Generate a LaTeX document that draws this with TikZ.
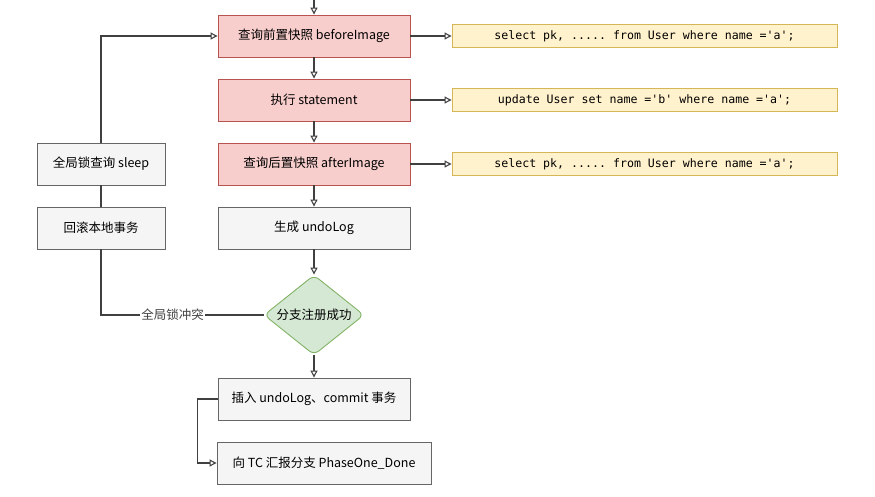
\documentclass[tikz,border=0pt]{standalone}
\usepackage{fontspec}
\setmainfont{Noto Sans CJK SC}
\setmonofont{DejaVu Sans Mono}
\usetikzlibrary{arrows.meta,shapes.geometric}
\definecolor{pinkfill}{HTML}{F8CECC}
\definecolor{pinkline}{HTML}{B85450}
\definecolor{grayfill}{HTML}{F5F5F5}
\definecolor{grayline}{HTML}{666666}
\definecolor{greenfill}{HTML}{D5E8D4}
\definecolor{greenline}{HTML}{82B366}
\definecolor{sqlfill}{HTML}{FFF2CC}
\definecolor{sqlline}{HTML}{D6B656}
\definecolor{wire}{HTML}{404040}
\begin{document}
\begin{tikzpicture}[
      x=1pt, y=-1pt,
      stepbox/.style={
        rectangle, draw=grayline, fill=grayfill, line width=0.9pt,
        minimum width=192pt, minimum height=42pt, inner sep=0pt,
        font=\fontsize{12.5}{14}\selectfont
      },
      snapbox/.style={
        stepbox, draw=pinkline, fill=pinkfill
      },
      sidebox/.style={
        stepbox, minimum width=128pt
      },
      judge/.style={
        diamond, draw=greenline, fill=greenfill, line width=0.9pt,
        minimum width=100pt, minimum height=80pt, inner sep=0pt,
        shape aspect=1.25, rounded corners=6pt,
        font=\fontsize{12.5}{14}\selectfont
      },
      sqlbox/.style={
        rectangle, draw=sqlline, fill=sqlfill, line width=0.9pt,
        minimum width=385pt, minimum height=23pt, inner sep=0pt,
        font=\ttfamily\fontsize{11.6}{13}\selectfont
      },
      flow/.style={-{Triangle[open, length=7pt, width=7pt]}, wire, line width=1.1pt},
      wireline/.style={wire, line width=1.1pt},
      lbl/.style={font=\fontsize{12.5}{14}\selectfont, fill=white, inner sep=1pt}
    ]
    \useasboundingbox (0,0) rectangle (875,496);

    % Main column, top to bottom.
    \coordinate (entry) at (314,0);
    \node[snapbox]  (before) at (314, 36) {查询前置快照 beforeImage};
    \node[snapbox]  (exec)   at (314,100) {执行 statement};
    \node[snapbox]  (after)  at (314,164) {查询后置快照 afterImage};
    \node[stepbox]  (undo)   at (314,228) {生成 undoLog};
    \node[judge]    (reg)    at (314,315) {分支注册成功};
    \node[stepbox]  (commit) at (314,399) {插入 undoLog、commit 事务};
    \node[stepbox, minimum width=214pt] (report) at (324,463) {向 TC 汇报分支 PhaseOne\_Done};

    % SQL run by each snapshot step.
    \node[sqlbox] (sqlbefore) at (644.5, 36) {select pk, ..... from User where name ='a';};
    \node[sqlbox] (sqlexec)   at (644.5,100) {update User set name ='b' where name ='a';};
    \node[sqlbox] (sqlafter)  at (644.5,164) {select pk, ..... from User where name ='a';};

    % Lock conflict branch on the left.
    \node[sidebox] (sleep)    at (101,164) {全局锁查询 sleep};
    \node[sidebox] (rollback) at (101,228) {回滚本地事务};

    % Main flow.
    \draw[flow] (entry) -- (before);
    \draw[flow] (before) -- (exec);
    \draw[flow] (exec) -- (after);
    \draw[flow] (after) -- (undo);
    \draw[flow] (undo) -- (reg);
    \draw[flow] (reg) -- (commit);
    \draw[flow] (commit.west) -- ++(-20,0) |- (report.west);

    % Snapshot steps to their SQL.
    \draw[flow] (before) -- (sqlbefore);
    \draw[flow] (exec) -- (sqlexec);
    \draw[flow] (after) -- (sqlafter);

    % Conflict: roll back, wait, retry.
    \draw[wireline] (reg.west) -| node[lbl, pos=0.28] {全局锁冲突} (rollback.south);
    \draw[wireline] (rollback) -- (sleep);
    \draw[flow] (sleep.north) |- (before.west);
  \end{tikzpicture}
\end{document}
